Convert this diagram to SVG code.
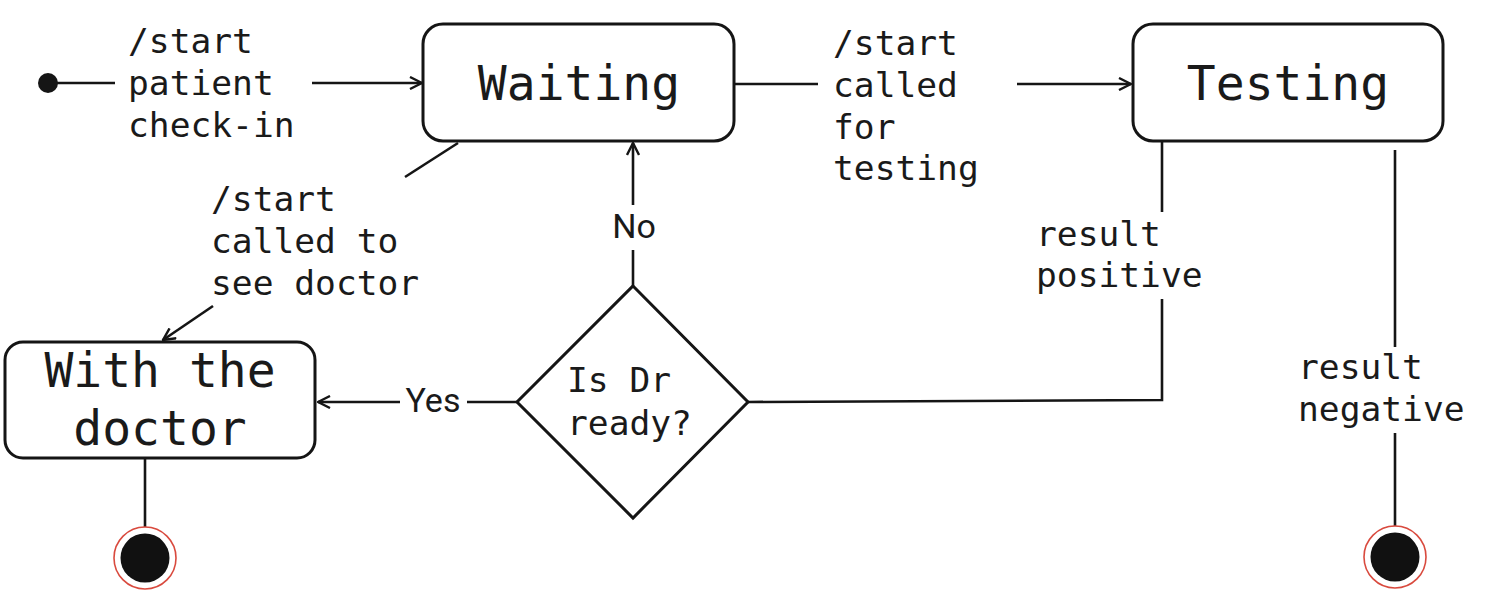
<svg xmlns="http://www.w3.org/2000/svg" width="1502" height="598" viewBox="0 0 1502 598">
<style>
.box{fill:#fff;stroke:#151515;stroke-width:3}
.ln{fill:none;stroke:#151515;stroke-width:2.6}
.t{font-family:"DejaVu Sans Mono","Liberation Mono",monospace;font-size:34.6px;fill:#1a1a1a}
.big{font-family:"DejaVu Sans Mono","Liberation Mono",monospace;font-size:48px;fill:#1a1a1a;text-anchor:middle}
.s{font-family:Roboto,"Liberation Sans",sans-serif;font-size:34px;fill:#1a1a1a;text-anchor:middle}
.fin{fill:#fff;stroke:#d94a3e;stroke-width:1.6}
</style>
<defs>
<marker id="arr" viewBox="0 0 14 14" refX="13" refY="7" markerWidth="14" markerHeight="14" markerUnits="userSpaceOnUse" orient="auto">
<path d="M1,1 L13,7 L1,13" fill="none" stroke="#151515" stroke-width="2.4"/>
</marker>
</defs>
<rect width="1502" height="598" fill="#fff"/>
<g id="connectors">
<line class="ln" x1="48" y1="83" x2="115" y2="83"/>
<line class="ln" x1="312" y1="83" x2="422" y2="83" marker-end="url(#arr)"/>
<line class="ln" x1="734" y1="84" x2="818" y2="84"/>
<line class="ln" x1="1017" y1="84" x2="1131" y2="84" marker-end="url(#arr)"/>
<line class="ln" x1="458" y1="143" x2="405" y2="177"/>
<line class="ln" x1="213" y1="306" x2="163" y2="340" marker-end="url(#arr)"/>
<line class="ln" x1="633" y1="286" x2="633" y2="250"/>
<line class="ln" x1="633" y1="205" x2="633" y2="143" marker-end="url(#arr)"/>
<line class="ln" x1="517" y1="402" x2="467" y2="402"/>
<line class="ln" x1="400" y1="402" x2="318" y2="402" marker-end="url(#arr)"/>
<polyline class="ln" points="1162,142 1162,212"/>
<polyline class="ln" points="1162,299 1162,400 748,402"/>
<line class="ln" x1="1395" y1="150" x2="1395" y2="347"/>
<line class="ln" x1="1395" y1="433" x2="1395" y2="527"/>
<line class="ln" x1="145" y1="458" x2="145" y2="527"/>
<text class="t" x="128" y="53">/start</text>
<text class="t" x="128" y="95">patient</text>
<text class="t" x="128" y="137">check-in</text>
<text class="t" x="833" y="55">/start</text>
<text class="t" x="833" y="97">called</text>
<text class="t" x="833" y="139">for</text>
<text class="t" x="833" y="180">testing</text>
<text class="t" x="211" y="211">/start</text>
<text class="t" x="211" y="253">called to</text>
<text class="t" x="211" y="295">see doctor</text>
<text class="s" x="634" y="238">No</text>
<text class="s" x="433" y="412">Yes</text>
<text class="t" x="1036" y="246">result</text>
<text class="t" x="1036" y="287">positive</text>
<text class="t" x="1298" y="379">result</text>
<text class="t" x="1298" y="421">negative</text>
</g>
<g id="start"><circle cx="48" cy="83" r="10" fill="#151515"/></g>
<g id="waiting">
<rect class="box" x="423" y="24" width="311" height="117" rx="20"/>
<text class="big" x="579" y="100">Waiting</text>
</g>
<g id="testing">
<rect class="box" x="1133" y="24" width="310" height="117" rx="20"/>
<text class="big" x="1288" y="100">Testing</text>
</g>
<g id="doctor">
<rect class="box" x="5" y="342" width="310" height="116" rx="18"/>
<text class="big" x="160" y="387">With the</text>
<text class="big" x="160" y="445">doctor</text>
</g>
<g id="decision">
<polygon class="box" points="633,286 748,402 633,518 517,402"/>
<text class="t" x="567" y="392">Is Dr</text>
<text class="t" x="567" y="435">ready?</text>
</g>
<g id="end1">
<circle class="fin" cx="145" cy="558" r="31"/>
<circle cx="145" cy="558" r="24.5" fill="#111"/>
</g>
<g id="end2">
<circle class="fin" cx="1395" cy="557" r="31"/>
<circle cx="1395" cy="557" r="24.5" fill="#111"/>
</g>
</svg>
